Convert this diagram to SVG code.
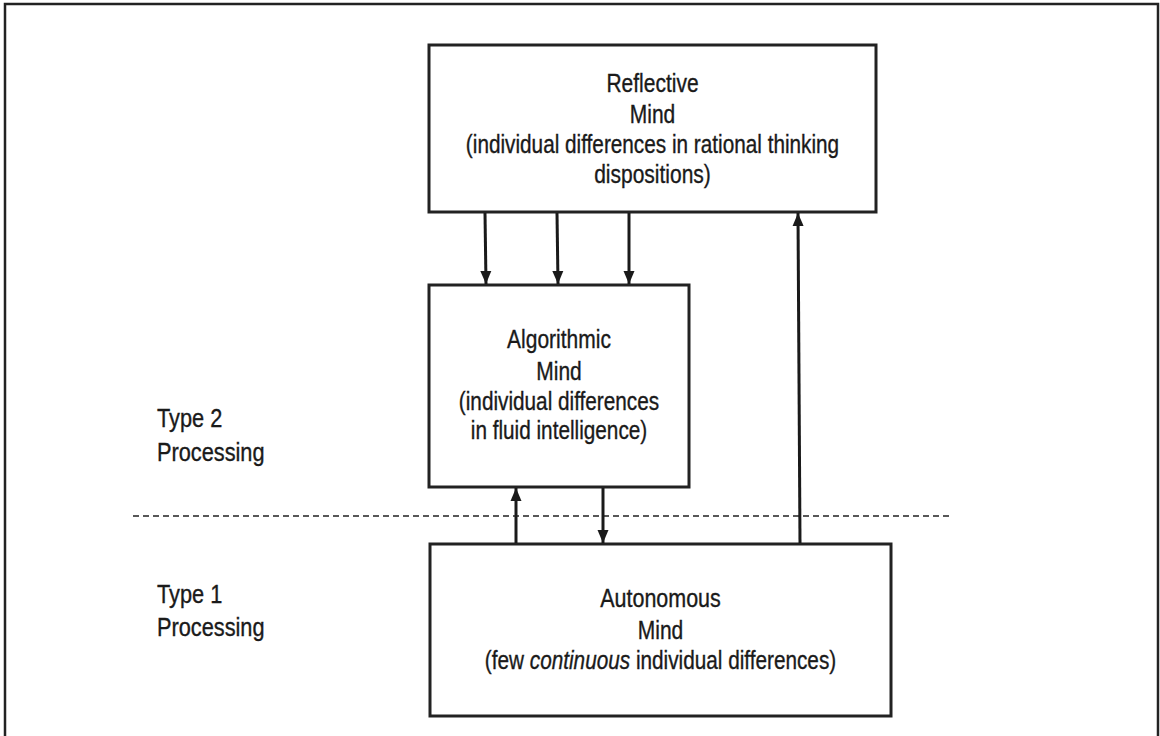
<svg xmlns="http://www.w3.org/2000/svg" width="1160" height="736" viewBox="0 0 1160 736">
<style>
.box{fill:#fff;stroke:#222;stroke-width:3}
.frame{fill:none;stroke:#222;stroke-width:2.5}
.t{font-family:"Liberation Sans",Arial,sans-serif;font-size:25px;fill:#1a1a1a;stroke:#1a1a1a;stroke-width:0.35;text-anchor:middle}
.l{font-family:"Liberation Sans",Arial,sans-serif;font-size:25px;fill:#1a1a1a;stroke:#1a1a1a;stroke-width:0.35;text-anchor:start}
.arr{stroke:#1a1a1a;stroke-width:3;fill:none;marker-end:url(#ah)}
.dash{stroke:#222;stroke-width:1.5;stroke-dasharray:6 4;fill:none}
</style>
<defs>
<marker id="ah" markerUnits="userSpaceOnUse" markerWidth="13" markerHeight="14" viewBox="0 0 13 14" refX="13" refY="7" orient="auto">
<path d="M0,1.5 L13,7 L0,12.5 Z" fill="#1a1a1a"/>
</marker>
</defs>
<rect width="1160" height="736" fill="#fff"/>
<path class="frame" d="M5,736 V4 H1158 V736"/>
<path class="dash" d="M133,516 H950"/>
<g id="reflective">
<rect class="box" x="429" y="45" width="447" height="167"/>
<text class="t" transform="translate(652.5 92) scale(0.84 1)">Reflective</text>
<text class="t" transform="translate(652.5 123) scale(0.84 1)">Mind</text>
<text class="t" transform="translate(652.5 153) scale(0.83 1)">(individual differences in rational thinking</text>
<text class="t" transform="translate(652.5 183) scale(0.84 1)">dispositions)</text>
</g>
<g id="algorithmic">
<rect class="box" x="429" y="285" width="260" height="202"/>
<text class="t" transform="translate(559 348) scale(0.84 1)">Algorithmic</text>
<text class="t" transform="translate(559 380) scale(0.84 1)">Mind</text>
<text class="t" transform="translate(559 410) scale(0.83 1)">(individual differences</text>
<text class="t" transform="translate(559 439) scale(0.83 1)">in fluid intelligence)</text>
</g>
<g id="autonomous">
<rect class="box" x="430" y="544" width="461" height="172"/>
<text class="t" transform="translate(660.5 607) scale(0.86 1)">Autonomous</text>
<text class="t" transform="translate(660.5 639) scale(0.84 1)">Mind</text>
<text class="t" transform="translate(660.5 669) scale(0.83 1)">(few <tspan font-style="italic">continuous</tspan> individual differences)</text>
</g>
<g id="type2">
<text class="l" transform="translate(157 427) scale(0.87 1)">Type 2</text>
<text class="l" transform="translate(157 461) scale(0.87 1)">Processing</text>
</g>
<g id="type1">
<text class="l" transform="translate(157 603) scale(0.87 1)">Type 1</text>
<text class="l" transform="translate(157 636) scale(0.87 1)">Processing</text>
</g>
<g id="connectors">
<path class="arr" d="M485,213 L486,284"/>
<path class="arr" d="M557,213 L558,284"/>
<path class="arr" d="M629,213 L629,284"/>
<path class="arr" d="M516,543 L516,488"/>
<path class="arr" d="M603,488 L603,543"/>
<path class="arr" d="M800,543 L798,213"/>
</g>
</svg>
